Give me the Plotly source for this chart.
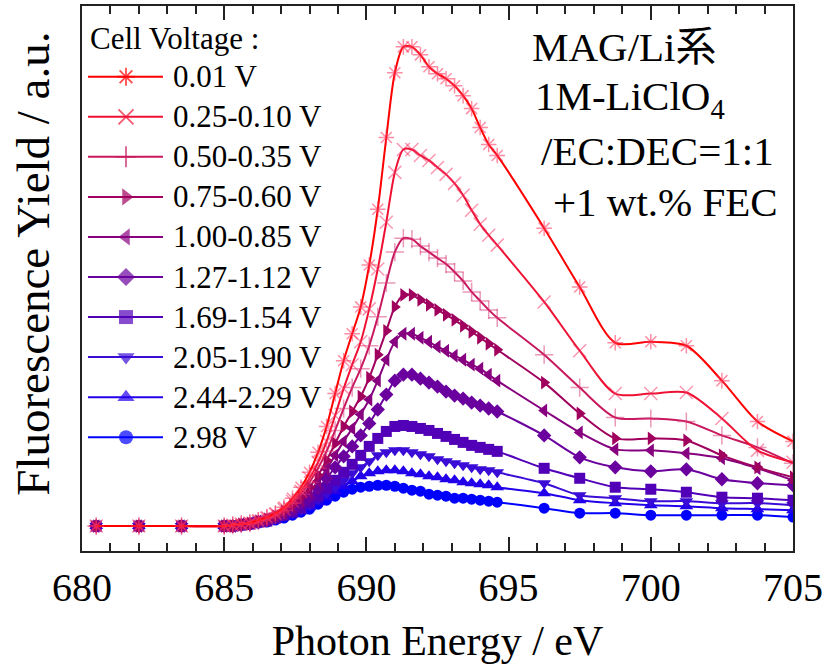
import plotly.graph_objects as go

# Photon energies (eV): coarse pre-edge, fine edge scan, coarse post-edge
energy = [680.5, 682.0, 683.5,
          685.0, 685.3, 685.6, 685.9, 686.2, 686.5, 686.8, 687.1, 687.4, 687.7,
          688.0, 688.3, 688.6, 688.9, 689.2, 689.5, 689.8, 690.1, 690.4, 690.7,
          691.0, 691.3, 691.6, 691.9, 692.2, 692.5, 692.8, 693.1, 693.4, 693.7,
          694.0, 694.3, 694.6,
          696.25, 697.5, 698.75, 700.0, 701.25, 702.5, 703.75, 705.0]

# Fluorescence yield (a.u.) for each cell-voltage window
y_0p01 = [0, 0, 0,
          0, 1, 2, 3, 6, 9, 13, 19, 28, 39,
          54, 74, 100, 133, 166, 193, 220, 262, 318, 390,
          455, 481, 481, 473, 461, 454, 449, 442, 432, 419,
          400, 383, 372,
          299, 240, 184, 185, 181, 146, 105, 85]
y_0p25 = [0, 0, 0,
          0, 1, 2, 3, 5, 8, 12, 17, 25, 35,
          48, 64, 85, 111, 138, 162, 185, 218, 258, 305,
          355, 378, 378, 372, 367, 360, 353, 344, 332, 317,
          303, 292, 282,
          225, 176, 133, 133, 134, 108, 76, 64]
y_0p50 = [0, 0, 0,
          0, 1, 2, 3, 5, 8, 11, 16, 23, 32,
          44, 58, 75, 96, 118, 139, 158, 181, 210, 244,
          275, 289, 288, 281, 275, 269, 263, 255, 246, 235,
          226, 217, 209,
          172, 139, 109, 108, 105, 91, 79, 63]
y_0p75 = [0, 0, 0,
          0, 0, 2, 3, 5, 7, 10, 15, 21, 29,
          39, 51, 66, 83, 100, 115, 130, 149, 172, 196,
          220, 232, 232, 227, 222, 217, 212, 207, 201, 195,
          189, 183, 177,
          144, 113, 88, 88, 86, 71, 59, 49]
y_1p00 = [0, 0, 0,
          0, 0, 2, 3, 5, 7, 10, 13, 19, 25,
          34, 45, 57, 71, 85, 98, 112, 127, 146, 167,
          185, 193, 193, 189, 185, 180, 176, 171, 167, 162,
          158, 152, 146,
          116, 94, 77, 76, 73, 68, 58, 46]
y_1p27 = [0, 0, 0,
          0, 0, 1, 2, 4, 6, 9, 12, 16, 22,
          29, 38, 48, 59, 70, 80, 91, 103, 117, 132,
          146, 152, 152, 148, 144, 140, 135, 131, 128, 124,
          121, 118, 115,
          91, 69, 59, 55, 57, 47, 43, 41]
y_1p69 = [0, 0, 0,
          0, 0, 1, 2, 4, 5, 8, 11, 14, 18,
          24, 30, 38, 46, 54, 62, 71, 80, 88, 95,
          100, 101, 100, 98, 96, 93, 90, 87, 84, 81,
          79, 77, 75,
          58, 48, 39, 37, 34, 29, 28, 26]
y_2p05 = [0, 0, 0,
          0, 0, 1, 2, 4, 5, 7, 10, 13, 16,
          21, 27, 33, 39, 46, 53, 59, 65, 71, 74,
          76, 76, 74, 72, 70, 67, 65, 63, 61, 59,
          57, 56, 54,
          43, 31, 28, 25, 25, 23, 23, 21]
y_2p44 = [0, 0, 0,
          0, 0, 1, 2, 3, 4, 6, 9, 12, 15,
          19, 24, 29, 35, 40, 45, 50, 53, 55, 56,
          56, 55, 53, 52, 50, 49, 47, 46, 44, 43,
          42, 41, 39,
          33, 26, 23, 21, 20, 18, 17, 16]
y_2p98 = [0, 0, 0,
          0, 0, 1, 2, 3, 4, 6, 8, 11, 14,
          17, 22, 26, 30, 34, 37, 39, 40, 41, 41,
          40, 38, 36, 35, 32, 31, 30, 28, 28, 27,
          26, 25, 24,
          18, 13, 13, 11, 11, 11, 11, 9]

labels = ["0.01 V", "0.25-0.10 V", "0.50-0.35 V", "0.75-0.60 V", "1.00-0.85 V",
          "1.27-1.12 V", "1.69-1.54 V", "2.05-1.90 V", "2.44-2.29 V", "2.98 V"]
series = [y_0p01, y_0p25, y_0p50, y_0p75, y_1p00,
          y_1p27, y_1p69, y_2p05, y_2p44, y_2p98]
colors = ["#FF0000", "#EE1133", "#C8185E", "#A0005E", "#86007F",
          "#6A009E", "#5200B8", "#3A0CD6", "#2200EA", "#0000FF"]
symbols = ["asterisk-open", "x-thin-open", "cross-thin-open", "triangle-right",
           "triangle-left", "diamond", "square", "triangle-down", "triangle-up", "circle"]
open_marker_colors = ["rgba(255,50,90,0.55)", "rgba(245,50,100,0.5)", "rgba(215,50,115,0.5)"]

SERIF = "Liberation Serif, Times New Roman, serif"

fig = go.Figure()

# Data curves, blue (high voltage) drawn first so the red ones lie on top
for i in reversed(range(len(series))):
    if i < 3:
        marker = dict(symbol=symbols[i], size=13, color=open_marker_colors[i],
                      line=dict(color=open_marker_colors[i], width=1.5))
    else:
        marker = dict(symbol=symbols[i], size=12 if "triangle" in symbols[i] else 11,
                      color=colors[i], line=dict(width=0))
    fig.add_trace(go.Scatter(
        x=energy, y=series[i], mode="lines+markers", name=labels[i],
        line=dict(color=colors[i], width=2, shape="spline", smoothing=0.8),
        marker=marker, showlegend=False, cliponaxis=True))

# Legend drawn on a pixel-like overlay axis
legend_x = [88, 126, 163]
row0, row_gap = 75, 40.2
for i, lab in enumerate(labels):
    yy = row0 + i * row_gap
    if i < 3:
        mk = dict(symbol=symbols[i], size=[0, 15, 0], color=colors[i],
                  line=dict(color=colors[i], width=1.8))
    else:
        mk = dict(symbol=symbols[i], size=[0, 15 if "triangle" in symbols[i] else 14, 0],
                  color=colors[i], line=dict(width=0))
    fig.add_trace(go.Scatter(
        x=legend_x, y=[yy, yy, yy], xaxis="x2", yaxis="y2",
        mode="lines+markers", line=dict(color=colors[i], width=2),
        marker=mk, showlegend=False, hoverinfo="skip"))
    fig.add_annotation(x=171, y=yy, xref="x2", yref="y2", text=lab,
                       showarrow=False, xanchor="left", yanchor="middle",
                       font=dict(family=SERIF, size=31, color="black"))

fig.add_annotation(x=88, y=37, xref="x2", yref="y2", text="Cell Voltage :",
                   showarrow=False, xanchor="left", yanchor="middle",
                   font=dict(family=SERIF, size=31, color="black"))

# Sample description
info = [("MAG/Li系", 530, 45), ("1M-LiClO<sub>4</sub>", 533, 97),
        ("/EC:DEC=1:1", 539, 150), ("+1 wt.% FEC", 551, 201)]
for txt, px, py in info:
    fig.add_annotation(x=px, y=py, xref="x2", yref="y2", text=txt,
                       showarrow=False, xanchor="left", yanchor="middle",
                       font=dict(family=SERIF + ", Noto Sans CJK JP", size=41, color="black"))

# Vertical axis title
fig.add_annotation(x=-0.069, y=0.527, xref="paper", yref="paper",
                   text="Fluorescence Yield / a.u.", textangle=-90,
                   showarrow=False, xanchor="center", yanchor="middle",
                   font=dict(family=SERIF, size=47, color="black"))

fig.update_layout(
    width=827, height=664,
    margin=dict(l=82, r=34, t=4, b=113),
    paper_bgcolor="white", plot_bgcolor="white",
    font=dict(family=SERIF, color="black"),
    xaxis=dict(range=[680, 705], tickmode="array", tickvals=[680, 685, 690, 695, 700, 705],
               ticks="inside", ticklen=14, tickwidth=1.5, tickcolor="#222",
               minor=dict(dtick=1, ticks="inside", ticklen=8, tickwidth=1.5, tickcolor="#222"),
               showline=True, linecolor="#222", linewidth=2, mirror="ticks",
               showgrid=False, zeroline=False,
               tickfont=dict(family=SERIF, size=40),
               title=dict(text="Photon Energy / eV", font=dict(family=SERIF, size=42), standoff=17)),
    yaxis=dict(range=[-25, 522], showticklabels=False, ticks="",
               showline=True, linecolor="#222", linewidth=2, mirror=True,
               showgrid=False, zeroline=False),
    xaxis2=dict(overlaying="x", range=[82, 793], visible=False, fixedrange=True),
    yaxis2=dict(overlaying="y", range=[551, 4], visible=False, fixedrange=True),
)

fig.write_html("out.html")
